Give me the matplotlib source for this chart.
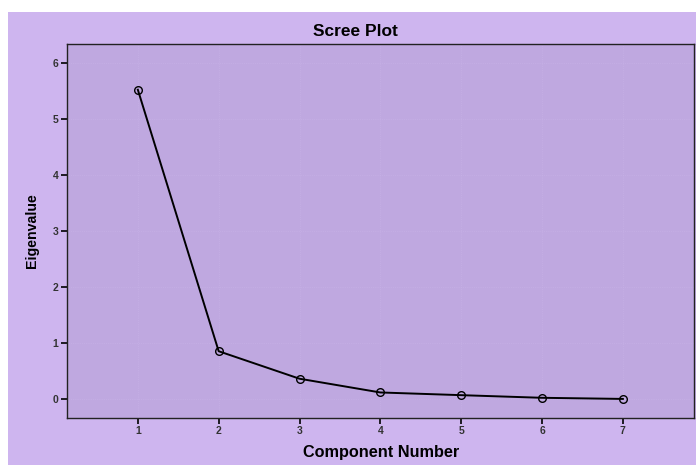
import matplotlib.pyplot as plt
from matplotlib.patches import Rectangle

plt.rcParams["font.family"] = ["Liberation Sans", "DejaVu Sans"]

components = [1, 2, 3, 4, 5, 6, 7]
eigenvalues = [5.52, 0.86, 0.37, 0.125, 0.077, 0.03, 0.01]

W, H = 696, 465
fig = plt.figure(figsize=(W / 100, H / 100), dpi=100, facecolor="white")
# purple panel behind everything, leaving a thin white strip top/left
fig.patches.append(Rectangle((8 / W, 0), 1 - 8 / W, 1 - 12 / H,
                             transform=fig.transFigure, facecolor="#CEB5EF",
                             edgecolor="none", zorder=-1))

ax = fig.add_axes([66.7 / W, 1 - 418 / H, (694 - 66.7) / W, (418 - 43.7) / H])
ax.set_facecolor("#BFA8E0")
ax.plot(components, eigenvalues, color="black", lw=1.4, marker="o", ms=5.5,
        mfc="none", mec="black", mew=1.0)

ax.set_xlim(0.12, 7.88)
ax.set_ylim(-0.33, 6.34)
ax.set_xticks(components)
ax.set_yticks(range(0, 7))
ax.tick_params(direction="out", length=4, width=1.2, labelsize=7.5,
               labelcolor="#333333", pad=2)
for lab in ax.get_xticklabels() + ax.get_yticklabels():
    lab.set_fontweight("bold")
for s in ax.spines.values():
    s.set_color("#222222")
    s.set_linewidth(1.0)

ax.grid(True, color="#C9B3E8", linestyle=":", linewidth=0.5)
ax.set_axisbelow(True)

fig.text(355 / W, 1 - 32 / H, "Scree Plot", ha="center", va="center",
         fontsize=12.5, fontweight="bold")
fig.text(381 / W, 1 - 452 / H, "Component Number", ha="center", va="center",
         fontsize=11.7, fontweight="bold")
fig.text(32 / W, 1 - 231 / H, "Eigenvalue", ha="center", va="center",
         fontsize=10.2, fontweight="bold", rotation=90)

fig.savefig("out.png", dpi=100, facecolor=fig.get_facecolor())
